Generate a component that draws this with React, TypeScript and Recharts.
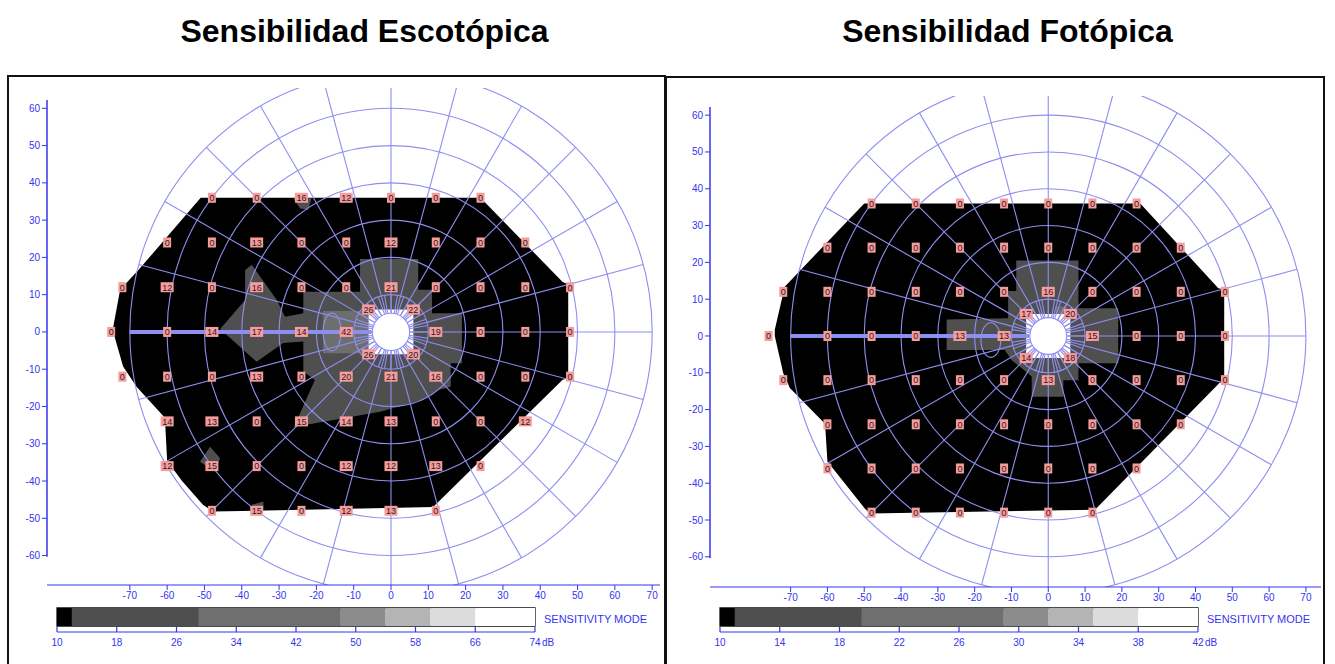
import {
  ScatterChart, Scatter, XAxis, YAxis, ReferenceArea, ReferenceLine,
  BarChart, Bar,
} from 'recharts'

type Pt = [number, number]
type Reading = [number, number, number]

const FONT = "'Liberation Sans', Arial, sans-serif"
const AXIS = '#3434f0'
const GRID = '#8e8ef0'
const LABEL_FILL = '#f79c9c'
const MID = '#4f4f4f'
const HIGH = '#6e6e6e'

const xTicks = [-70, -60, -50, -40, -30, -20, -10, 0, 10, 20, 30, 40, 50, 60, 70]
const yTicks = [-60, -50, -40, -30, -20, -10, 0, 10, 20, 30, 40, 50, 60]

// polar grid of the perimeter (degrees of visual field)
const rings = [10, 20, 30, 40, 50, 60, 70]
const spokes = Array.from({ length: 24 }, (_, i) => i * 15)
const innerSpokes = Array.from({ length: 36 }, (_, i) => i * 10)

// --- scotopic test (x, y, dB) ---
const scotopicReadings: Reading[] = [
  [-48, 36, 0], [-36, 36, 0], [-24, 36, 16], [-12, 36, 12], [0, 36, 0], [12, 36, 0], [24, 36, 0],
  [-60, 24, 0], [-48, 24, 0], [-36, 24, 13], [-24, 24, 0], [-12, 24, 0], [0, 24, 12], [12, 24, 0], [24, 24, 0], [36, 24, 0],
  [-72, 12, 0], [-60, 12, 12], [-48, 12, 0], [-36, 12, 16], [-24, 12, 0], [-12, 12, 0], [0, 12, 21], [12, 12, 0], [24, 12, 0], [36, 12, 0], [48, 12, 0],
  [-6, 6, 26], [6, 6, 22],
  [-75, 0, 0], [-60, 0, 0], [-48, 0, 14], [-36, 0, 17], [-24, 0, 14], [-12, 0, 42], [12, 0, 19], [24, 0, 0], [36, 0, 0], [48, 0, 0],
  [-6, -6, 26], [6, -6, 20],
  [-72, -12, 0], [-60, -12, 0], [-48, -12, 0], [-36, -12, 13], [-24, -12, 0], [-12, -12, 20], [0, -12, 21], [12, -12, 16], [24, -12, 0], [36, -12, 0], [48, -12, 0],
  [-60, -24, 14], [-48, -24, 13], [-36, -24, 0], [-24, -24, 15], [-12, -24, 14], [0, -24, 13], [12, -24, 0], [24, -24, 0], [36, -24, 12],
  [-60, -36, 12], [-48, -36, 15], [-36, -36, 0], [-24, -36, 0], [-12, -36, 12], [0, -36, 12], [12, -36, 13], [24, -36, 0],
  [-48, -48, 0], [-36, -48, 15], [-24, -48, 0], [-12, -48, 12], [0, -48, 13], [12, -48, 0],
]

const scotopicField: Pt[] = [
  [-51, 36], [24, 36], [46, 13.4], [47.5, 12.8], [47.5, -12.4], [46, -12.8], [11.3, -47],
  [-47.7, -48.2], [-50.4, -46.4], [-56, -40], [-60, -34.6], [-60.6, -23], [-68.2, -14.7],
  [-71.8, -9.3], [-74.6, 0.5], [-72.6, 11.3], [-67.7, 16.6],
]
const scotopicMid: Pt[] = [
  [-8.3, 19.6], [7.3, 19.6], [7.3, 11.3], [11, 11.3], [11, 5], [19, 5], [19, -8.4], [16, -8.4],
  [16, -14.7], [12.7, -15.6], [8.7, -18.2], [-2.9, -21.4], [-26, -25.5], [-20.4, -12.9],
  [-23.5, -10.6], [-23.5, -2.6], [-28.9, -3], [-36, -8], [-45.8, 0.8], [-39.1, 8.6], [-39.1, 16.6],
  [-37.3, 18], [-30.6, 8.6], [-28.4, 4.1], [-23.5, 5], [-23.5, 10.8], [-8.3, 10.8],
]
const scotopicHigh: Pt[] = [[-18.2, 5.6], [-5.8, 5.6], [-5.8, -5.7], [-18.2, -5.7]]
const scotopicSpots: Pt[][] = [
  [[-26.2, 35.9], [-21.3, 35.9], [-22.2, 32.7], [-24.4, 33.2]],
  [[-51.2, -34.8], [-48.5, -30.8], [-45.8, -33.9], [-46.7, -36.1], [-49.9, -35.7]],
  [[-37.3, -46.4], [-34.2, -45.5], [-34.2, -47.7], [-37.3, -47.7]],
]
const scotopicBlindSpot = [-15.8, 0, 2.4, 5.1]

// --- photopic test (x, y, dB) ---
const photopicReadings: Reading[] = [
  [-48, 36, 0], [-36, 36, 0], [-24, 36, 0], [-12, 36, 0], [0, 36, 0], [12, 36, 0], [24, 36, 0],
  [-60, 24, 0], [-48, 24, 0], [-36, 24, 0], [-24, 24, 0], [-12, 24, 0], [0, 24, 0], [12, 24, 0], [24, 24, 0], [36, 24, 0],
  [-72, 12, 0], [-60, 12, 0], [-48, 12, 0], [-36, 12, 0], [-24, 12, 0], [-12, 12, 0], [0, 12, 16], [12, 12, 0], [24, 12, 0], [36, 12, 0], [48, 12, 0],
  [-6, 6, 17], [6, 6, 20],
  [-76, 0, 0], [-60, 0, 0], [-48, 0, 0], [-36, 0, 0], [-24, 0, 13], [-12, 0, 13], [12, 0, 15], [24, 0, 0], [36, 0, 0], [48, 0, 0],
  [-6, -6, 14], [6, -6, 18],
  [-72, -12, 0], [-60, -12, 0], [-48, -12, 0], [-36, -12, 0], [-24, -12, 0], [-12, -12, 0], [0, -12, 13], [12, -12, 0], [24, -12, 0], [36, -12, 0], [48, -12, 0],
  [-60, -24, 0], [-48, -24, 0], [-36, -24, 0], [-24, -24, 0], [-12, -24, 0], [0, -24, 0], [12, -24, 0], [24, -24, 0], [36, -24, 0],
  [-60, -36, 0], [-48, -36, 0], [-36, -36, 0], [-24, -36, 0], [-12, -36, 0], [0, -36, 0], [12, -36, 0], [24, -36, 0],
  [-48, -48, 0], [-36, -48, 0], [-24, -48, 0], [-12, -48, 0], [0, -48, 0], [12, -48, 0],
]

const photopicField: Pt[] = [
  [-50, 36], [25, 36], [46.2, 13], [47.8, 12.6], [47.8, -12.4], [46.5, -12.8], [12.7, -47.2],
  [-48.5, -48.2], [-49.9, -46.8], [-60, -34.1], [-60.5, -26], [-60.8, -23.7], [-70.2, -14.1],
  [-72, -10.1], [-74.3, 0], [-74.3, 1.7], [-71.6, 13.4],
]
const photopicMid: Pt[] = [
  [-8.7, 20.5], [8.2, 20.5], [8.2, 7.5], [19, 7.5], [19, -7.4], [8.2, -7.4], [8.2, -12],
  [4.1, -12], [4.1, -16.5], [-4.5, -16.5], [-4.5, -11], [-10, -6.5], [-11.8, -3.8],
  [-27.6, -3.8], [-27.6, 4.5], [-10.9, 4.8], [-10.9, 12.2], [-8.7, 12.2],
]
const photopicHigh: Pt[] = [[2, 8], [5, 8], [5, 5.6], [2, 5.6]]
const photopicSpots: Pt[][] = []
const photopicBlindSpot = [-15.6, -1.1, 2.7, 4.7]

const untested: Pt[] = [[-6, 6], [6, 6], [6, -6], [-6, -6]]

// --- grey scales (dB band limits) ---
const bandColors = ['#000000', '#4f4f4f', '#6f6f6f', '#8c8c8c', '#b4b4b4', '#dcdcdc', '#ffffff']
const scotopicBands = [10, 12, 29, 48, 54, 60, 66, 74]
const scotopicScaleTicks = [10, 18, 26, 34, 42, 50, 58, 66, 74]
const photopicBands = [10, 11, 19.5, 29, 32, 35, 38, 42]
const photopicScaleTicks = [10, 14, 18, 22, 26, 30, 34, 38, 42]

const REF = 50

interface MapDef {
  field: Pt[]
  mid: Pt[]
  high: Pt[]
  spots: Pt[][]
  blind: number[]
}

const mapLayer = (m: MapDef, xDom: number[], yDom: number[], clipId: string) => (p: any) => {
  const { x, y, width, height } = p
  if (width == null || height == null) return <g />
  const sx = width / (2 * REF)
  const sy = height / (2 * REF)
  const ox = x + width / 2
  const oy = y + height / 2
  const X = (v: number) => ox + v * sx
  const Y = (v: number) => oy - v * sy
  const poly = (pts: Pt[]) => pts.map(([a, b]) => `${X(a)},${Y(b)}`).join(' ')
  const left = X(xDom[0])
  const top = Y(yDom[1])
  const ray = (deg: number, r0: number, r1: number, key: number) => {
    const t = (deg * Math.PI) / 180
    return (
      <line key={key}
        x1={X(r0 * Math.cos(t))} y1={Y(r0 * Math.sin(t))}
        x2={X(r1 * Math.cos(t))} y2={Y(r1 * Math.sin(t))}
        stroke={GRID} strokeWidth={1.1} />
    )
  }
  return (
    <g>
      <defs>
        <clipPath id={clipId}>
          <rect x={left} y={top} width={X(xDom[1]) - left} height={Y(yDom[0]) - top} />
        </clipPath>
      </defs>
      <g clipPath={`url(#${clipId})`}>
        <polygon points={poly(m.field)} fill="#000" />
        <polygon points={poly(m.mid)} fill={MID} />
        <polygon points={poly(m.high)} fill={HIGH} />
        {m.spots.map((s, i) => <polygon key={i} points={poly(s)} fill={MID} />)}
        <polygon points={poly(untested)} fill="#fff" />
        {rings.map((r) => (
          <ellipse key={r} cx={X(0)} cy={Y(0)} rx={r * sx} ry={r * sy}
            fill="none" stroke={GRID} strokeWidth={1.1} />
        ))}
        {innerSpokes.map((a, i) => ray(a, 5, 10, i))}
        {spokes.map((a, i) => ray(a, 5, 70, 100 + i))}
        <ellipse cx={X(0)} cy={Y(0)} rx={5 * sx} ry={5 * sy} fill="#fff" stroke={GRID} strokeWidth={1.1} />
        <ellipse cx={X(m.blind[0])} cy={Y(m.blind[1])} rx={m.blind[2] * sx} ry={m.blind[3] * sy}
          fill="none" stroke={GRID} strokeWidth={1.1} />
        <line x1={X(-70)} y1={Y(0)} x2={X(-5.2)} y2={Y(0)} stroke={GRID} strokeWidth={4} />
      </g>
    </g>
  )
}

const ReadingBox = (p: any) => {
  const { cx, cy, payload } = p
  if (cx == null || cy == null) return <g />
  const txt = String(payload.v)
  const w = 3 + 5 * txt.length
  return (
    <g>
      <rect x={cx - w / 2} y={cy - 5} width={w} height={10} fill={LABEL_FILL} />
      <text x={cx} y={cy + 3.3} textAnchor="middle" fontSize={9} fill="#2a1c1c" fontFamily={FONT}>
        {txt}
      </text>
    </g>
  )
}

interface FieldProps {
  id: string
  left: number
  width: number
  plotTop: number
  plotBottom: number
  xDom: number[]
  yDom: number[]
  readings: Reading[]
  map: MapDef
}

const CHART_H = 625
const XAXIS_H = 30

function FieldChart({ id, left, width, plotTop, plotBottom, xDom, yDom, readings, map }: FieldProps) {
  const data = readings.map(([x, y, v]) => ({ x, y, v }))
  return (
    <div style={{ position: 'absolute', left, top: 0 }}>
      <ScatterChart width={width} height={CHART_H}
        margin={{ top: plotTop, right: 10, left: 7, bottom: CHART_H - XAXIS_H - plotBottom }}>
        <XAxis type="number" dataKey="x" domain={xDom} allowDataOverflow ticks={xTicks} interval={0}
          stroke={AXIS} tickSize={5} height={XAXIS_H}
          tick={{ fontSize: 10, fill: AXIS, fontFamily: FONT }} />
        <YAxis type="number" dataKey="y" domain={yDom} allowDataOverflow ticks={yTicks} interval={0}
          stroke={AXIS} tickSize={5} width={40} axisLine={false}
          tick={{ fontSize: 10, fill: AXIS, fontFamily: FONT }} />
        <ReferenceArea x1={-REF} x2={REF} y1={-REF} y2={REF}
          shape={mapLayer(map, xDom, yDom, `clip-${id}`)} />
        <ReferenceLine segment={[{ x: xDom[0], y: -60.3 }, { x: xDom[0], y: 62.2 }]}
          stroke={AXIS} strokeWidth={1.5} ifOverflow="visible" />
        <Scatter data={data} shape={ReadingBox} isAnimationActive={false} />
      </ScatterChart>
    </div>
  )
}

const ScaleTick = (p: any) => {
  const { x, y, payload, last } = p
  return (
    <g>
      <line x1={x} y1={y} x2={x} y2={y - 5} stroke={AXIS} strokeWidth={1.2} />
      <text x={x} y={y + 14} textAnchor="middle" fontSize={10} fill={AXIS} fontFamily={FONT}>
        {payload.value}
      </text>
      {payload.value === last && (
        <text x={x + 7} y={y + 14} fontSize={10} fill={AXIS} fontFamily={FONT}>dB</text>
      )}
    </g>
  )
}

function ScaleBar({ left, bands, ticks }: { left: number; bands: number[]; ticks: number[] }) {
  const row: Record<string, number | string> = { name: 'scale', base: bands[0] }
  bands.slice(1).forEach((b, i) => { row[`s${i}`] = b - bands[i] })
  const last = bands[bands.length - 1]
  return (
    <div style={{ position: 'absolute', left: left - 10, top: 590 }}>
      <BarChart layout="vertical" width={478 + 40} height={67} data={[row]} barSize={18}
        margin={{ top: 12, right: 30, bottom: 0, left: 10 }}>
        <XAxis type="number" domain={[bands[0], last]} allowDataOverflow ticks={ticks} interval={0}
          stroke={AXIS} tickLine={false} tickSize={0} tickMargin={0} height={25}
          tick={<ScaleTick last={last} />} />
        <YAxis type="category" dataKey="name" hide />
        <Bar dataKey="base" stackId="s" fill="transparent" isAnimationActive={false} />
        {bandColors.map((c, i) => (
          <Bar key={i} dataKey={`s${i}`} stackId="s" fill={c} isAnimationActive={false}
            background={i === bandColors.length - 1 ? { fill: 'none', stroke: '#111', strokeWidth: 1.3 } : undefined} />
        ))}
      </BarChart>
    </div>
  )
}

const titleStyle = {
  position: 'absolute' as const, top: 15, width: 420, textAlign: 'center' as const,
  fontFamily: FONT, fontWeight: 700, fontSize: 32, lineHeight: '32px', color: '#000',
}
const captionStyle = {
  position: 'absolute' as const, top: 613, fontFamily: FONT, fontSize: 11, color: AXIS,
  lineHeight: '13px', whiteSpace: 'nowrap' as const,
}

export default function App() {
  return (
    <div style={{ position: 'absolute', left: 0, top: 0, width: 1335, height: 664, overflow: 'hidden', background: '#fff' }}>
      <div style={{ ...titleStyle, left: 364.5 - 210 }}>Sensibilidad Escotópica</div>
      <div style={{ ...titleStyle, left: 1007.5 - 210 }}>Sensibilidad Fotópica</div>
      <div style={{ position: 'absolute', left: 7, top: 75, width: 655, height: 640, border: '2px solid #111' }} />
      <div style={{ position: 'absolute', left: 665, top: 76, width: 656, height: 640, border: '2px solid #111' }} />

      <FieldChart id="scot" left={0} width={670} plotTop={88} plotBottom={585}
        xDom={[-92.2, 72.1]} yDom={[-67.9, 65.45]} readings={scotopicReadings}
        map={{ field: scotopicField, mid: scotopicMid, high: scotopicHigh, spots: scotopicSpots, blind: scotopicBlindSpot }} />
      <FieldChart id="phot" left={663} width={668} plotTop={96} plotBottom={587}
        xDom={[-91.9, 74.1]} yDom={[-68.2, 65.2]} readings={photopicReadings}
        map={{ field: photopicField, mid: photopicMid, high: photopicHigh, spots: photopicSpots, blind: photopicBlindSpot }} />

      <ScaleBar left={57} bands={scotopicBands} ticks={scotopicScaleTicks} />
      <ScaleBar left={720} bands={photopicBands} ticks={photopicScaleTicks} />
      <div style={{ ...captionStyle, left: 544 }}>SENSITIVITY MODE</div>
      <div style={{ ...captionStyle, left: 1207 }}>SENSITIVITY MODE</div>
    </div>
  )
}
